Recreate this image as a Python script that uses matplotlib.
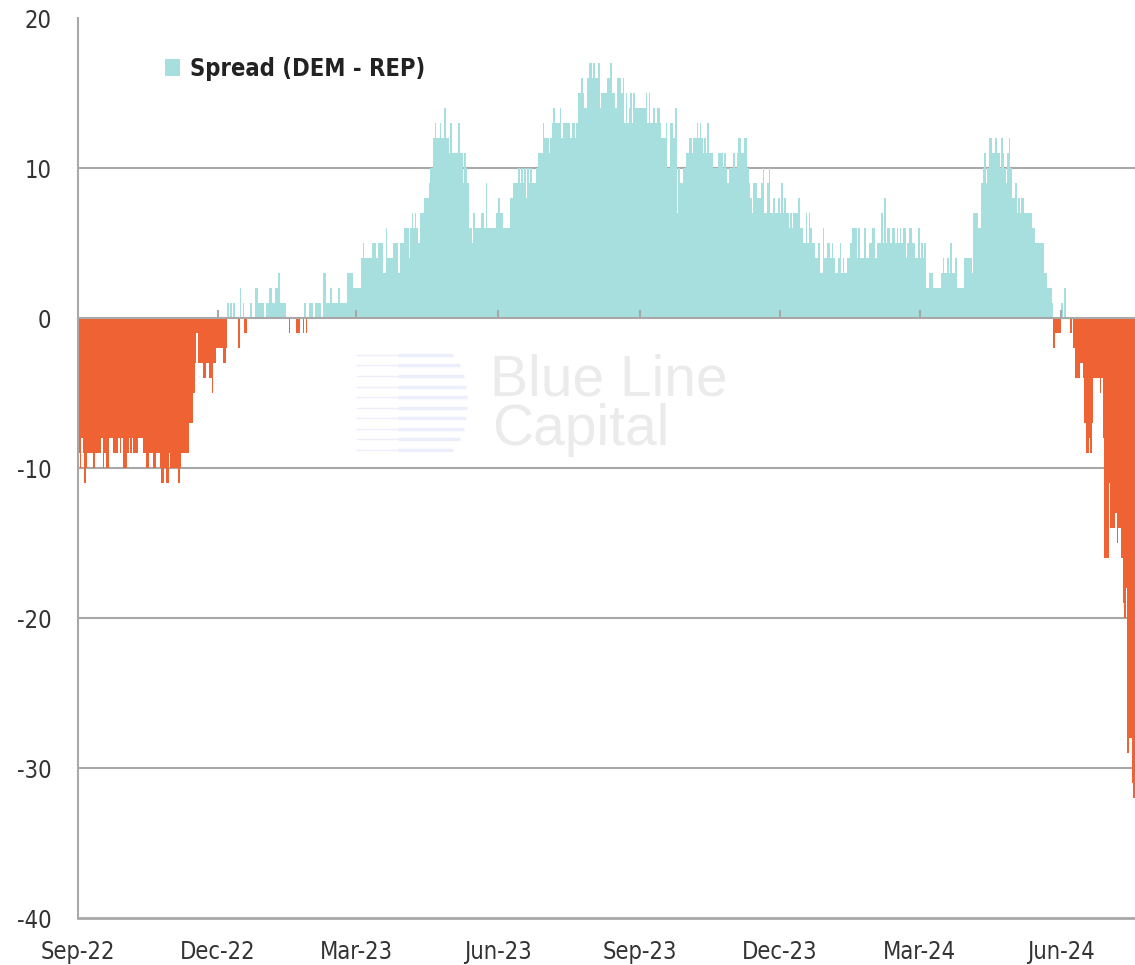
import matplotlib
matplotlib.use("Agg")
import matplotlib.pyplot as plt
import numpy as np
import pandas as pd
from matplotlib.patches import Patch
from matplotlib.lines import Line2D

start_date = "2022-09-01"
n_days = 687

# spread (DEM - REP), read off the chart as steps:
# (day offset from start_date, value) -- value holds until the next step
spread_steps = [
    (0, -9), (1, -10), (2, -8), (3, -9), (4, -11), (5, -10), (6, -9), (10, -10), (11, -9),
    (15, -8), (16, -10), (17, -9), (18, -10), (20, -8), (23, -9), (26, -8), (27, -9),
    (28, -8), (29, -10), (32, -9), (33, -8), (34, -9), (35, -8), (36, -9), (39, -8),
    (42, -9), (44, -10), (46, -9), (49, -10), (51, -9), (53, -10), (54, -11), (56, -10),
    (57, -11), (59, -9), (60, -10), (65, -11), (66, -10), (67, -9), (72, -7), (75, -5),
    (76, -3), (77, -1), (78, -3), (81, -4), (83, -3), (85, -4), (87, -5), (88, -3),
    (90, -2), (94, -3), (96, -2),
    (97, 1), (98, 0), (99, 1), (100, 0), (101, 1), (102, 0), (104, -2), (105, 2), (106, 0),
    (107, 1), (108, -1), (110, 0), (112, 1), (113, 0), (115, 2), (117, 1), (121, 0),
    (122, 1), (124, 2), (126, 1), (128, 2), (130, 3), (131, 1), (135, 0), (137, -1),
    (138, 0), (142, -1), (144, 0), (146, -1), (147, 1), (148, -1), (149, 0), (150, 1),
    (153, 0), (154, 1), (158, 0), (159, 3), (161, 1), (164, 2), (165, 1), (169, 2),
    (170, 1), (175, 3), (179, 2),
    (184, 4), (185, 5), (186, 4), (191, 5), (194, 4), (195, 5), (198, 3), (200, 6),
    (201, 4), (205, 5), (208, 3), (209, 5), (212, 6), (215, 4), (216, 6), (217, 7),
    (218, 6), (219, 7), (220, 6), (221, 5), (222, 7), (225, 8), (228, 9), (229, 10),
    (231, 12), (232, 13), (233, 12), (235, 13), (236, 12), (238, 14), (239, 12),
    (241, 11), (242, 13), (243, 11), (247, 13), (248, 11), (250, 9), (251, 11),
    (252, 10), (253, 9), (254, 6), (256, 5), (257, 7), (258, 6), (262, 7), (264, 6),
    (265, 9), (266, 6), (272, 7), (273, 8), (274, 7), (276, 6), (281, 8), (283, 9),
    (286, 10), (287, 9), (288, 10), (289, 9), (290, 10), (291, 8), (292, 10), (293, 9),
    (294, 10), (295, 9), (298, 10), (299, 11), (302, 13), (303, 12), (306, 11),
    (307, 12), (308, 13), (309, 14), (310, 13), (313, 14), (314, 12), (315, 13),
    (320, 12), (321, 13), (323, 12), (324, 13), (325, 15), (327, 16), (328, 15),
    (329, 14), (331, 16), (332, 17), (334, 16), (335, 17), (336, 16), (338, 17),
    (339, 14), (340, 15), (344, 16), (346, 17), (347, 15), (349, 14), (350, 16),
    (353, 15), (354, 16), (355, 13), (356, 15), (357, 13), (358, 14), (359, 15),
    (360, 13), (361, 15), (362, 14), (369, 15), (370, 13), (371, 15), (372, 13),
    (374, 14), (375, 13), (376, 14), (378, 13), (379, 12), (382, 13), (383, 10),
    (385, 13), (387, 12), (388, 14), (389, 7), (390, 10), (391, 9), (393, 10),
    (395, 11), (397, 12), (399, 11), (400, 12), (402, 13), (403, 12), (404, 13),
    (405, 12), (406, 11), (407, 12), (408, 11), (409, 13), (410, 11), (413, 10),
    (416, 11), (419, 10), (420, 11), (421, 10), (422, 9), (423, 10),
    (426, 11), (427, 10), (428, 11), (429, 12), (431, 11), (433, 12), (435, 10),
    (436, 9), (437, 8), (438, 7), (439, 9), (441, 8), (444, 9), (445, 10), (446, 7),
    (448, 9), (449, 10), (450, 7), (452, 8), (453, 7), (455, 8), (456, 7), (457, 9),
    (458, 7), (459, 8), (460, 7), (462, 6), (463, 7), (464, 6), (465, 7), (468, 8),
    (469, 6), (471, 5), (473, 7), (474, 5), (475, 7), (476, 6), (477, 5), (479, 4),
    (481, 5), (482, 3), (484, 6), (485, 4), (487, 5), (489, 4), (490, 5), (491, 4),
    (492, 3), (494, 4), (495, 5), (496, 3), (497, 4), (498, 3), (500, 4), (502, 5),
    (503, 6), (506, 4), (507, 6), (508, 4), (511, 6), (512, 4), (514, 5), (516, 6),
    (518, 4), (519, 5), (522, 7), (523, 5), (524, 8), (525, 5), (526, 6), (528, 5),
    (529, 6), (531, 5), (532, 6), (533, 5), (534, 6), (535, 5), (536, 6), (538, 4),
    (539, 5), (540, 6), (542, 5), (544, 4), (546, 6),
    (547, 4), (548, 5), (549, 4), (550, 5), (551, 2), (553, 3), (556, 2), (561, 3),
    (562, 4), (563, 3), (565, 4), (566, 3), (567, 5), (568, 3), (570, 4), (571, 2),
    (576, 4), (581, 3), (582, 7), (585, 6), (587, 9), (588, 10), (589, 11), (590, 9),
    (591, 10), (592, 12), (594, 11), (596, 12), (597, 11), (599, 10), (600, 12),
    (601, 11), (602, 10), (603, 9), (604, 11), (605, 12), (606, 10), (607, 8),
    (609, 9), (610, 7), (611, 8), (612, 7), (613, 8), (615, 7), (620, 6), (622, 5),
    (628, 3), (630, 2), (633, 1), (634, -2), (635, -1), (639, 1), (640, 0), (641, 2),
    (642, 0), (645, -1), (646, 0), (647, -2), (648, -4), (651, -3), (653, -4),
    (654, -7), (655, -9), (657, -8), (658, -9), (659, -7), (660, -4), (664, -5),
    (665, -4), (666, -8), (667, -16), (670, -11), (671, -14), (674, -13), (675, -15),
    (676, -14), (678, -16), (679, -19), (680, -20), (681, -18), (682, -29),
    (683, -28), (685, -31), (686, -32),
]

tick_labels = ["Sep-22", "Dec-22", "Mar-23", "Jun-23", "Sep-23", "Dec-23", "Mar-24", "Jun-24"]
y_ticks = [20, 10, 0, -10, -20, -30, -40]

pos_color = "#a6dfdd"
neg_color = "#ee6233"
grid_color = "#a8a8a8"
text_color = "#333333"

plt.rcParams["font.family"] = ["DejaVu Sans"]
plt.rcParams["font.stretch"] = "condensed"

step_days = [d for d, v in spread_steps]
step_vals = [v for d, v in spread_steps]
days = np.arange(n_days)
spread = np.array(step_vals)[np.searchsorted(step_days, days, side="right") - 1]
colors = [pos_color if v >= 0 else neg_color for v in spread]

start = pd.Timestamp(start_date)
tick_days = [(d - start).days for d in pd.date_range(start, periods=len(tick_labels), freq="3MS")]

W, H = 1135, 965
fig = plt.figure(figsize=(W / 100, H / 100), dpi=100)
ax = fig.add_axes([78 / W, 47 / H, 1 - 78 / W, 900 / H])
ax.patch.set_alpha(0)

ax.bar(days, spread, width=1.0, align="edge", color=colors, linewidth=0, zorder=2)

ax.set_xlim(0, n_days)
ax.set_ylim(-40, 20)
ax.set_yticks(y_ticks)
ax.set_yticklabels([str(v) for v in y_ticks])
for v in [10, -10, -20, -30]:
    ax.axhline(v, color=grid_color, lw=1.5, zorder=1)
ax.axhline(0, color=grid_color, lw=1.5, zorder=3)
ax.vlines(tick_days[1:], 0, 0.55, color=grid_color, lw=1.5, zorder=3)

ax.set_xticks(tick_days)
ax.set_xticklabels(tick_labels)
ax.tick_params(axis="x", length=0, pad=16, labelsize=17, labelcolor=text_color)
ax.tick_params(axis="y", length=0, pad=19, labelsize=17, labelcolor=text_color)

for s in ["top", "right"]:
    ax.spines[s].set_visible(False)
ax.spines["left"].set_color(grid_color)
ax.spines["left"].set_linewidth(1.5)
ax.spines["bottom"].set_color(grid_color)
ax.spines["bottom"].set_linewidth(2)

handle = Patch(facecolor=pos_color, edgecolor="none")
leg = ax.legend([handle], ["Spread (DEM - REP)"], loc="center left",
                bbox_to_anchor=((165 - 78) / 1057, (918 - 69) / 900),
                frameon=False, borderpad=0, borderaxespad=0,
                handlelength=0.65, handleheight=0.7, handletextpad=0.4,
                prop={"weight": "bold", "size": 17, "stretch": "condensed"})
for t in leg.get_texts():
    t.set_color("#222222")

# watermark
wm_color = "#ebebeb"
fig.text(490 / W, 1 - 395 / H, "Blue Line", fontsize=41, color=wm_color,
         family=["Liberation Sans", "DejaVu Sans"], stretch="normal",
         va="baseline", ha="left", zorder=0)
fig.text(492 / W, 1 - 445 / H, "Capital", fontsize=41, color=wm_color,
         family=["Liberation Sans", "DejaVu Sans"], stretch="normal",
         va="baseline", ha="left", zorder=0)
logo_color = "#eceefb"
n_lines = 10
for i in range(n_lines):
    y = 355 + i * 10.5
    r = (i - (n_lines - 1) / 2) / ((n_lines - 1) / 2 + 0.6)
    x_end = 440 + 27 * np.sqrt(1 - r * r)
    fig.add_artist(Line2D([357 / W, 398 / W], [1 - y / H, 1 - y / H],
                          color=logo_color, lw=1.0, zorder=1))
    fig.add_artist(Line2D([398 / W, x_end / W], [1 - y / H, 1 - y / H],
                          color=logo_color, lw=2.5, zorder=1, solid_capstyle="butt"))

fig.savefig("out.png", dpi=100)
